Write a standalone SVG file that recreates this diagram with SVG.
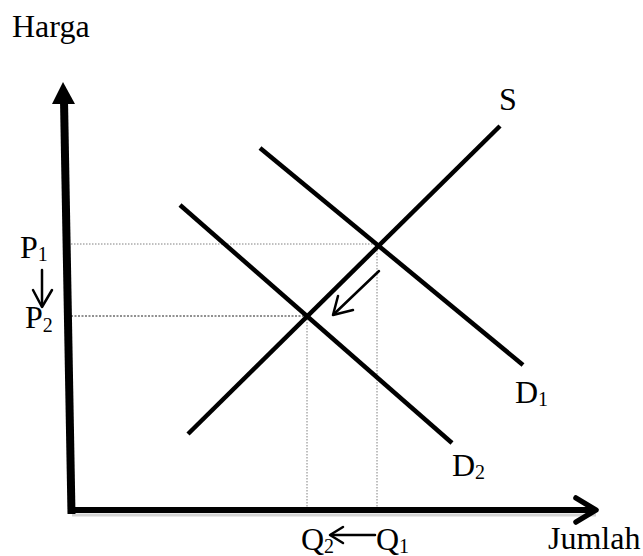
<svg xmlns="http://www.w3.org/2000/svg" width="643" height="556" viewBox="0 0 643 556">
<style>
text{font-family:"Liberation Serif","Times New Roman",serif;font-size:32px;fill:#000}
.sub{font-size:20px}
.curve{stroke:#000;stroke-width:4.5;fill:none}
.guide{stroke:#808080;stroke-width:1;stroke-dasharray:1.5 1.5;fill:none}
.guide2{stroke:#222;stroke-width:1;stroke-dasharray:2 1.5;fill:none}
.small{stroke:#000;stroke-width:2.5;fill:none;stroke-linecap:round;stroke-linejoin:round}
</style>
<rect width="643" height="556" fill="#fff"/>
<g id="guides">
<line class="guide" x1="71" y1="244" x2="377" y2="244"/>
<line class="guide2" x1="71" y1="316" x2="306" y2="316"/>
<line class="guide" x1="307" y1="316" x2="307" y2="508"/>
<line class="guide" x1="377" y1="244" x2="377" y2="508"/>
</g>
<g id="axes">
<line x1="72" y1="515" x2="596" y2="515" stroke="#d4d4d4" stroke-width="3"/>
<line x1="71.5" y1="514" x2="64" y2="100" stroke="#000" stroke-width="8"/>
<polygon points="63,82 52,104 75,104" fill="#000"/>
<line x1="68" y1="510" x2="594" y2="510" stroke="#000" stroke-width="6"/>
<polyline points="576,498 596,510 576,522" fill="none" stroke="#000" stroke-width="5.5" stroke-linecap="round" stroke-linejoin="round"/>
</g>
<g id="supply"><line class="curve" x1="188" y1="434" x2="500" y2="126"/></g>
<g id="demand1"><line class="curve" x1="260" y1="148" x2="523" y2="365"/></g>
<g id="demand2"><line class="curve" x1="180" y1="205" x2="452" y2="443"/></g>
<g id="connectors">
<line class="small" x1="379" y1="271" x2="334" y2="314"/>
<polyline class="small" points="338,296 333,315 353,310"/>
<line class="small" x1="42" y1="270" x2="42" y2="306"/>
<polyline class="small" points="33,290 42,307 52,290"/>
<line class="small" x1="375" y1="535" x2="331" y2="535"/>
<polyline class="small" points="343,527 330,535 343,543"/>
</g>
<g id="labels">
<text x="12" y="37">Harga</text>
<text x="548" y="549">Jumlah</text>
<text x="499" y="110">S</text>
<text x="20" y="258">P<tspan class="sub" dy="3">1</tspan></text>
<text x="25" y="328">P<tspan class="sub" dy="4">2</tspan></text>
<text x="515" y="403">D<tspan class="sub" dy="3">1</tspan></text>
<text x="452" y="476">D<tspan class="sub" dy="3">2</tspan></text>
<text x="301" y="550">Q<tspan class="sub" dy="3">2</tspan></text>
<text x="376" y="550">Q<tspan class="sub" dy="3">1</tspan></text>
</g>
</svg>
